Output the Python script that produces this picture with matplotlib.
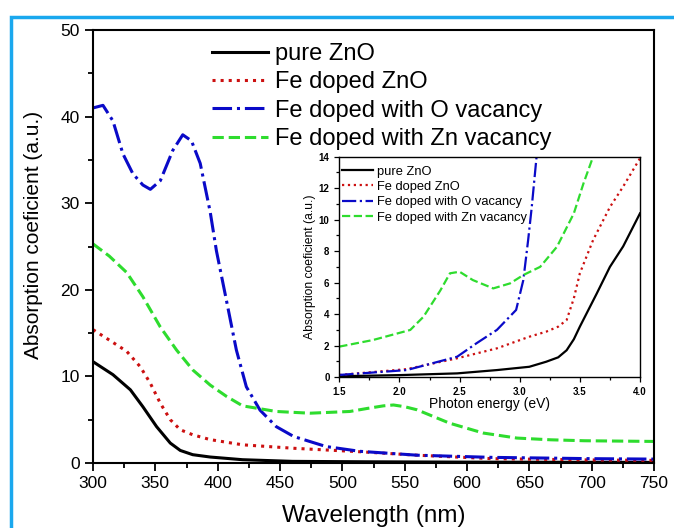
import matplotlib
matplotlib.use("Agg")
import matplotlib.pyplot as plt
from matplotlib.patches import Rectangle
from matplotlib.ticker import MultipleLocator

plt.rcParams['font.family'] = ['Liberation Sans', 'DejaVu Sans']

# main panel: absorption vs wavelength (nm)
wl_pure = [300, 316, 330, 340, 351, 362, 370, 380, 394, 420, 460, 520, 600, 700, 750]
abs_pure = [11.7, 10.2, 8.45, 6.5, 4.2, 2.3, 1.45, 0.96, 0.69, 0.38, 0.19, 0.14, 0.1, 0.08, 0.07]

wl_fe = [300, 313, 327, 338, 346, 354, 362, 370, 380, 394, 420, 461, 514, 560, 620, 700, 750]
abs_fe = [15.4, 14.2, 12.9, 11.1, 9.2, 6.9, 5.0, 3.84, 3.26, 2.7, 2.1, 1.7, 1.3, 0.9, 0.5, 0.35, 0.3]

wl_ov = [300, 308, 316, 324, 332, 340, 346, 354, 364, 372, 379, 386, 394, 399,
         407, 415, 423, 434, 447, 461, 487, 514, 560, 620, 700, 750]
abs_ov = [41.0, 41.3, 39.5, 35.7, 33.4, 32.1, 31.6, 32.6, 36.1, 37.9, 37.2, 34.6, 29.0, 24.5,
          18.8, 13.05, 8.8, 6.1, 4.2, 3.06, 1.9, 1.35, 0.9, 0.65, 0.5, 0.45]

wl_zv = [300, 313, 327, 340, 354, 367, 380, 394, 407, 420, 447, 474, 506, 520, 533, 541,
         550, 560, 586, 613, 640, 667, 694, 750]
abs_zv = [25.3, 23.9, 22.0, 19.2, 15.7, 13.05, 10.75, 9.0, 7.7, 6.6, 5.95, 5.75, 5.95, 6.3, 6.6, 6.7,
          6.5, 6.14, 4.6, 3.46, 2.88, 2.68, 2.57, 2.49]

# inset: absorption vs photon energy (eV)
ev_pure = [1.5, 2.0, 2.48, 2.81, 3.08, 3.22, 3.32, 3.39, 3.45, 3.5, 3.64, 3.75, 3.86, 4.0]
ev_abs_pure = [0.05, 0.12, 0.23, 0.44, 0.65, 0.97, 1.25, 1.7, 2.4, 3.2, 5.3, 7.0, 8.3, 10.4]

ev_fe = [1.5, 2.06, 2.48, 2.81, 3.08, 3.22, 3.32, 3.39, 3.45, 3.5, 3.61, 3.75, 3.86, 4.0]
ev_abs_fe = [0.13, 0.5, 1.19, 1.82, 2.56, 2.88, 3.2, 3.62, 5.0, 6.59, 8.7, 10.8, 12.1, 13.9]

ev_ov = [1.5, 2.06, 2.48, 2.64, 2.81, 2.97, 3.03, 3.07, 3.1, 3.14]
ev_abs_ov = [0.13, 0.44, 1.29, 2.14, 2.99, 4.26, 6.16, 8.7, 10.8, 14.0]

ev_zv = [1.5, 1.78, 2.09, 2.2, 2.34, 2.42, 2.5, 2.61, 2.78, 2.92, 3.03, 3.17, 3.31, 3.45, 3.53, 3.61]
ev_abs_zv = [1.93, 2.35, 2.99, 3.83, 5.5, 6.59, 6.69, 6.16, 5.63, 5.95, 6.48, 7.0, 8.28, 10.4, 12.3, 14.0]

labels = ['pure ZnO', 'Fe doped ZnO', 'Fe doped with O vacancy', 'Fe doped with Zn vacancy']
colors = ['#000000', '#cc1010', '#0a0ac8', '#2edc2e']
styles = ['-', ':', '-.', '--']

fig = plt.figure(figsize=(6.74, 5.28), dpi=100)

# light blue frame around the picture
fig.patches.append(Rectangle((11 / 674, -0.1), 1.2, 1 - 17 / 528 + 0.1,
                             transform=fig.transFigure, fill=False,
                             edgecolor='#1aa8ee', lw=2.5, clip_on=False))

ax = fig.add_axes([93 / 674, 1 - 463 / 528, (654 - 93) / 674, (463 - 30) / 528])
main_sets = [(wl_pure, abs_pure), (wl_fe, abs_fe), (wl_ov, abs_ov), (wl_zv, abs_zv)]
for (x, y), lab, c, ls in zip(main_sets, labels, colors, styles):
    ax.plot(x, y, ls, color=c, lw=2.2, label=lab)

ax.set_xlim(300, 750)
ax.set_ylim(0, 50)
ax.xaxis.set_major_locator(MultipleLocator(50))
ax.xaxis.set_minor_locator(MultipleLocator(25))
ax.yaxis.set_major_locator(MultipleLocator(10))
ax.yaxis.set_minor_locator(MultipleLocator(5))
ax.tick_params(which='both', direction='out', top=False, right=False, labelsize=12.5, width=1.3)
ax.tick_params(which='major', length=6)
ax.tick_params(which='minor', length=3.5)
for s in ax.spines.values():
    s.set_linewidth(1.5)
ax.set_xlabel('Wavelength (nm)', fontsize=17.5, labelpad=10)
ax.set_ylabel('Absorption coeficient (a.u.)', fontsize=15)
ax.yaxis.set_label_coords(-0.09, 0.527)

ax.legend(loc='upper left', bbox_to_anchor=((212 - 93) / 561, (463 - 43) / 433),
          frameon=False, fontsize=17, handlelength=2.37, handletextpad=0.3,
          labelspacing=0.27, borderpad=0, borderaxespad=0)

# inset
ins = fig.add_axes([339.3 / 674, 1 - 377 / 528, (640 - 339.3) / 674, (377 - 156.7) / 528])
ins_sets = [(ev_pure, ev_abs_pure), (ev_fe, ev_abs_fe), (ev_ov, ev_abs_ov), (ev_zv, ev_abs_zv)]
for (x, y), lab, c, ls in zip(ins_sets, labels, colors, styles):
    ins.plot(x, y, ls, color=c, lw=1.6, label=lab)

ins.set_xlim(1.5, 4.0)
ins.set_ylim(0, 14)
ins.xaxis.set_major_locator(MultipleLocator(0.5))
ins.xaxis.set_minor_locator(MultipleLocator(0.25))
ins.yaxis.set_major_locator(MultipleLocator(2))
ins.yaxis.set_minor_locator(MultipleLocator(1))
ins.tick_params(which='both', direction='out', top=False, right=False, labelsize=7, width=0.9)
ins.tick_params(which='major', length=3.5)
ins.tick_params(which='minor', length=2)
for t in ins.get_xticklabels() + ins.get_yticklabels():
    t.set_fontweight('bold')
ins.xaxis.set_major_formatter(plt.FormatStrFormatter('%.1f'))
for s in ins.spines.values():
    s.set_linewidth(1.0)
ins.set_xlabel('Photon energy (eV)', fontsize=10, labelpad=0)
ins.set_ylabel('Absorption coeficient (a.u.)', fontsize=8.7, labelpad=2)
ins.legend(loc='upper left', bbox_to_anchor=(0.009, 0.96), frameon=False, fontsize=9.3,
           handlelength=2.4, handletextpad=0.3, labelspacing=0.26,
           borderpad=0, borderaxespad=0)

fig.savefig('out.png', dpi=100)
